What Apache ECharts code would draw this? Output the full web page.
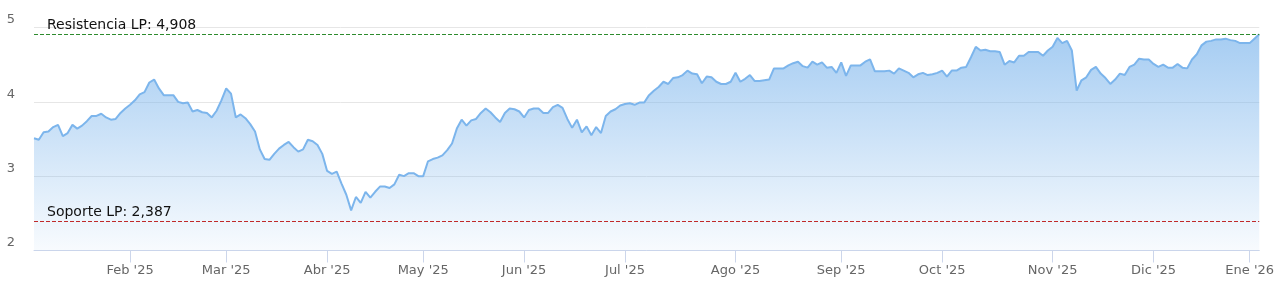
<!DOCTYPE html>
<html><head><meta charset="utf-8">
<script src="https://cdn.jsdelivr.net/npm/echarts@6/dist/echarts.min.js"></script>
<style>html,body{margin:0;padding:0;background:#fff}#c{width:1277px;height:290px}</style>
</head><body><div id="c"></div>
<script>
// Month labels for the x axis (first trading day of each month)
const monthLabels = ["Ene '25","Feb '25","Mar '25","Abr '25","May '25","Jun '25","Jul '25","Ago '25","Sep '25","Oct '25","Nov '25","Dic '25","Ene '26"];

// Daily closing values per month (trading days)
const ene25 = [3.51,3.49,3.59,3.60,3.66,3.69,3.54,3.58,3.69,3.64,3.68,3.74,3.81,3.81,3.84,3.79,3.76,3.77,3.85,3.91];
const feb25 = [3.96,4.02,4.10,4.13,4.26,4.30,4.18,4.09,4.09,4.09,4.00,3.98,3.99,3.87,3.89,3.86,3.85,3.79,3.88,4.02];
const mar25 = [4.18,4.11,3.79,3.83,3.78,3.70,3.60,3.36,3.23,3.22,3.30,3.37,3.42,3.46,3.39,3.33,3.36,3.49,3.47,3.42,3.30];
const abr25 = [3.07,3.03,3.06,2.90,2.75,2.54,2.72,2.64,2.79,2.71,2.79,2.86,2.86,2.84,2.89,3.02,3.00,3.04,3.04,3.00];
const may25 = [3.00,3.20,3.23,3.25,3.28,3.35,3.44,3.64,3.76,3.68,3.75,3.77,3.85,3.91,3.86,3.79,3.73,3.85,3.91,3.90,3.87];
const jun25 = [3.79,3.89,3.91,3.91,3.85,3.85,3.93,3.96,3.92,3.77,3.65,3.76,3.59,3.67,3.55,3.66,3.58,3.81,3.87,3.90,3.95];
const jul25 = [3.97,3.98,3.96,3.99,3.99,4.09,4.15,4.20,4.27,4.24,4.32,4.33,4.36,4.42,4.38,4.37,4.25,4.34,4.33,4.27,4.24,4.24,4.27];
const ago25 = [4.39,4.27,4.31,4.36,4.28,4.28,4.29,4.30,4.45,4.45,4.45,4.49,4.52,4.54,4.48,4.46,4.54,4.50,4.53,4.46,4.47,4.39];
const sep25 = [4.53,4.35,4.49,4.49,4.49,4.54,4.57,4.41,4.41,4.41,4.42,4.38,4.45,4.42,4.39,4.33,4.37,4.39,4.36,4.37,4.39];
const oct25 = [4.42,4.34,4.42,4.42,4.46,4.47,4.60,4.74,4.69,4.70,4.68,4.68,4.67,4.50,4.55,4.53,4.62,4.62,4.67,4.67,4.67,4.62,4.69];
const nov25 = [4.74,4.86,4.79,4.82,4.69,4.15,4.29,4.33,4.43,4.47,4.38,4.32,4.24,4.30,4.38,4.36,4.47,4.50,4.58,4.57,4.57];
const dic25 = [4.51,4.47,4.50,4.46,4.46,4.51,4.46,4.45,4.57,4.64,4.76,4.81,4.82,4.84,4.84,4.85,4.83,4.82,4.79,4.79];
const ene26 = [4.79,4.85,4.908];

// Reference levels
const resistenciaLP = 4.908;
const soporteLP = 2.387;

// y axis ticks
const yTicks = [2, 3, 4, 5];

const months = [ene25, feb25, mar25, abr25, may25, jun25, jul25, ago25, sep25, oct25, nov25, dic25, ene26];
const categories = [];
const values = [];
const monthStart = {};
months.forEach((arr, m) => {
  arr.forEach((v, d) => {
    const idx = values.length;
    if (d === 0 && m > 0) monthStart[idx] = monthLabels[m];
    categories.push(monthLabels[m] + '|' + (d + 1));
    values.push(v);
  });
});

const FONT = 'DejaVu Sans';
const fmt = v => v.toFixed(3).replace('.', ',');
const isStart = idx => Object.prototype.hasOwnProperty.call(monthStart, idx);

function levelSeries(name, value, color, text) {
  return {
    name: name,
    type: 'line',
    data: [],
    silent: true,
    color: color,
    z: 5,
    markLine: {
      silent: true,
      symbol: ['none', 'none'],
      animation: false,
      lineStyle: {color: color, type: [4, 2], width: 1.2, opacity: 1},
      label: {show: true, position: 'insideStartTop', distance: [13, 2], color: '#111111',
              fontFamily: FONT, fontSize: 14, formatter: text},
      data: [{yAxis: value, lineStyle: {color: color}}]
    }
  };
}

const chart = echarts.init(document.getElementById('c'), null, {renderer: 'canvas'});
chart.setOption({
  animation: false,
  backgroundColor: '#ffffff',
  grid: {left: 34, right: 16, top: 27.5, bottom: 39.5, containLabel: false},
  xAxis: {
    type: 'category',
    data: categories,
    boundaryGap: false,
    axisLine: {show: true, lineStyle: {color: '#ccd6eb', width: 1}},
    axisTick: {show: true, length: 12, lineStyle: {color: '#ccd6eb'}, interval: (i) => isStart(i)},
    axisLabel: {
      show: true, interval: (i) => isStart(i), color: '#666666', fontFamily: FONT, fontSize: 13, margin: 14,
      formatter: (val) => val.split('|')[0], hideOverlap: false
    },
    splitLine: {show: false}
  },
  yAxis: {
    type: 'value',
    min: yTicks[0], max: yTicks[yTicks.length - 1], interval: 1,
    axisLine: {show: false}, axisTick: {show: false},
    axisLabel: {color: '#666666', fontFamily: FONT, fontSize: 13, margin: 19, verticalAlign: 'bottom', padding: [0, 0, 1, 0]},
    splitLine: {show: true, lineStyle: {color: '#e6e6e6', width: 1}}
  },
  series: [{
    name: 'precio',
    type: 'line',
    data: values,
    showSymbol: false,
    symbol: 'none',
    smooth: false,
    lineStyle: {color: '#7cb5ec', width: 2},
    itemStyle: {color: '#7cb5ec'},
    areaStyle: {
      origin: 'start',
      color: new echarts.graphic.LinearGradient(0, 27.5, 0, 250.5, [
        {offset: 0, color: 'rgba(124,181,236,1)'},
        {offset: 1, color: 'rgba(124,181,236,0.08)'}
      ], true)
    }
  },
  levelSeries('resistencia', resistenciaLP, '#2e8b2e', 'Resistencia LP: ' + fmt(resistenciaLP)),
  levelSeries('soporte', soporteLP, '#c02a2a', 'Soporte LP: ' + fmt(soporteLP))
  ]
});
</script>
</body></html>
